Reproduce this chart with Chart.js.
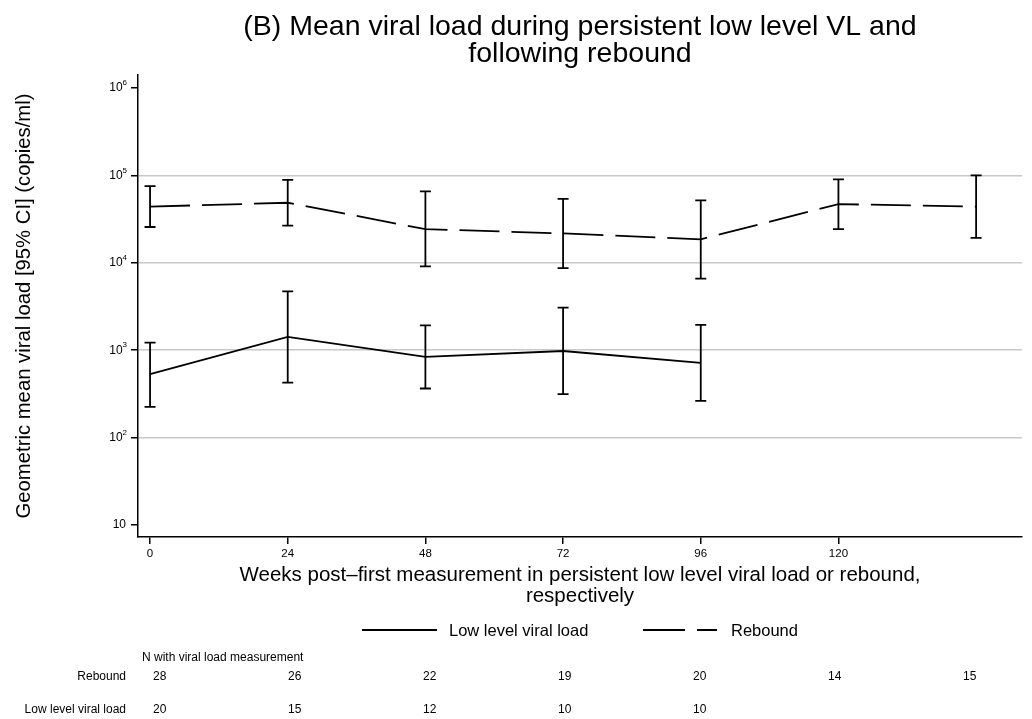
<!DOCTYPE html>
<html>
<head>
<meta charset="utf-8">
<script src="https://cdn.jsdelivr.net/npm/chart.js@4"></script>
<style>
  html, body { margin: 0; padding: 0; background: #fff; }
  canvas { display: block; }
</style>
</head>
<body>
<canvas id="vlChart" width="1032" height="719"></canvas>
<script>
const weeks = [0, 24, 48, 72, 96, 120, 144];
const xTicks = [0, 24, 48, 72, 96, 120];
const yTicks = [10, 100, 1000, 10000, 100000, 1000000];

// rebound: geometric mean + 95% CI
const reboundMean  = [44000, 48700, 24300, 21700, 18600, 47000, 44000];
const reboundLower = [25700, 26600, 9100, 8700, 6600, 24300, 19300];
const reboundUpper = [75500, 89000, 65600, 54000, 51800, 90000, 100000];

// persistent low level viral load
const lowMean  = [532, 1420, 839, 980, 716];
const lowLower = [225, 427, 365, 314, 263];
const lowUpper = [1225, 4720, 1930, 3080, 1950];

// N with viral load measurement
const nRebound = [28, 26, 22, 19, 20, 14, 15];
const nLow = [20, 15, 12, 10, 10];

const FONT = "'Liberation Sans', Arial, Helvetica, sans-serif";

function pts(xs, ys) {
  return ys.map((v, i) => ({ x: xs[i], y: v }));
}

const errorBars = {
  id: 'errorBars',
  afterDatasetsDraw(chart) {
    const c = chart.ctx, xs = chart.scales.x, ys = chart.scales.y;
    const sets = [[reboundLower, reboundUpper], [lowLower, lowUpper]];
    c.save();
    c.strokeStyle = '#000';
    c.lineWidth = 1.8;
    c.setLineDash([]);
    sets.forEach(([lo, hi]) => {
      lo.forEach((l, i) => {
        const x = xs.getPixelForValue(weeks[i]);
        const y1 = ys.getPixelForValue(l), y2 = ys.getPixelForValue(hi[i]);
        c.beginPath();
        c.moveTo(x, y1); c.lineTo(x, y2);
        c.moveTo(x - 5.5, y1); c.lineTo(x + 5.5, y1);
        c.moveTo(x - 5.5, y2); c.lineTo(x + 5.5, y2);
        c.stroke();
      });
    });
    c.restore();
  }
};

const decorations = {
  id: 'decorations',
  afterDraw(chart) {
    const c = chart.ctx, ys = chart.scales.y, area = chart.chartArea;
    const cx = (area.left + area.right) / 2;
    c.save();
    c.fillStyle = '#000';

    // title
    c.font = '28.5px ' + FONT;
    c.textAlign = 'center';
    c.textBaseline = 'middle';
    c.fillText('(B) Mean viral load during persistent low level VL and', cx, 27);
    c.fillText('following rebound', cx, 54);

    // y tick labels with exponents
    yTicks.forEach(v => {
      const y = ys.getPixelForValue(v);
      const e = Math.round(Math.log10(v));
      c.textBaseline = 'middle';
      c.textAlign = 'right';
      if (e === 1) {
        c.font = '12px ' + FONT;
        c.fillText('10', 126, y);
      } else {
        c.font = '8px ' + FONT;
        const ew = c.measureText(String(e)).width;
        c.fillText(String(e), 127, y - 5);
        c.font = '12px ' + FONT;
        c.fillText('10', 127 - ew, y);
      }
    });

    // y axis title
    c.save();
    c.translate(24, (area.top + area.bottom) / 2);
    c.rotate(-Math.PI / 2);
    c.font = '20.3px ' + FONT;
    c.textAlign = 'center';
    c.fillText('Geometric mean viral load [95% CI] (copies/ml)', 0, 0);
    c.restore();

    // x axis title
    c.font = '20.5px ' + FONT;
    c.textAlign = 'center';
    c.fillText('Weeks post\u2013first measurement in persistent low level viral load or rebound,', cx, 575);
    c.fillText('respectively', cx, 596);

    // legend
    c.strokeStyle = '#000';
    c.lineWidth = 1.8;
    c.beginPath();
    c.moveTo(362, 630); c.lineTo(437, 630);
    c.stroke();
    c.setLineDash([42, 12]);
    c.beginPath();
    c.moveTo(643, 630); c.lineTo(717, 630);
    c.stroke();
    c.setLineDash([]);
    c.font = '16.5px ' + FONT;
    c.textAlign = 'left';
    c.fillText('Low level viral load', 449, 631);
    c.fillText('Rebound', 731, 631);

    // N table
    c.font = '12px ' + FONT;
    c.textAlign = 'left';
    c.fillText('N with viral load measurement', 142, 658);
    c.textAlign = 'right';
    c.fillText('Rebound', 126, 677);
    c.fillText('Low level viral load', 126, 710);
    c.textAlign = 'left';
    nRebound.forEach((n, i) => c.fillText(String(n), 153 + i * 135, 677));
    nLow.forEach((n, i) => c.fillText(String(n), 153 + i * 135, 710));

    c.restore();
  }
};

new Chart(document.getElementById('vlChart'), {
  type: 'line',
  data: {
    datasets: [
      {
        label: 'Low level viral load',
        data: pts(weeks, lowMean),
        borderColor: '#000',
        borderWidth: 1.8,
        pointRadius: 0,
        tension: 0,
        fill: false
      },
      {
        label: 'Rebound',
        data: pts(weeks, reboundMean),
        borderColor: '#000',
        borderWidth: 1.8,
        borderDash: [40, 12],
        pointRadius: 0,
        tension: 0,
        fill: false
      }
    ]
  },
  options: {
    responsive: false,
    animation: false,
    devicePixelRatio: 1,
    layout: { padding: { left: 0, right: 10, top: 75, bottom: 152 } },
    plugins: {
      legend: { display: false },
      title: { display: false },
      tooltip: { enabled: false }
    },
    scales: {
      x: {
        type: 'linear',
        min: -2.1,
        max: 152,
        afterBuildTicks: s => { s.ticks = xTicks.map(v => ({ value: v })); },
        afterFit: s => { s.height = 30; },
        ticks: { color: '#000', font: { family: FONT, size: 11.5 }, padding: 3, maxRotation: 0 },
        grid: { drawOnChartArea: false, tickColor: '#000', tickLength: 7, lineWidth: 1.5 },
        border: { color: '#000', width: 1.5 }
      },
      y: {
        type: 'logarithmic',
        min: 7.3,
        max: 1410000,
        afterBuildTicks: s => { s.ticks = yTicks.map(v => ({ value: v })); },
        afterFit: s => { s.width = 138; },
        ticks: { display: false },
        grid: {
          color: ctx => (ctx.tick && (ctx.tick.value === 10 || ctx.tick.value === 1000000)) ? 'rgba(0,0,0,0)' : '#c8c8c8',
          lineWidth: 1.5,
          tickColor: '#000',
          tickLength: 7
        },
        border: { color: '#000', width: 1.5 }
      }
    }
  },
  plugins: [errorBars, decorations]
});
</script>
</body>
</html>
